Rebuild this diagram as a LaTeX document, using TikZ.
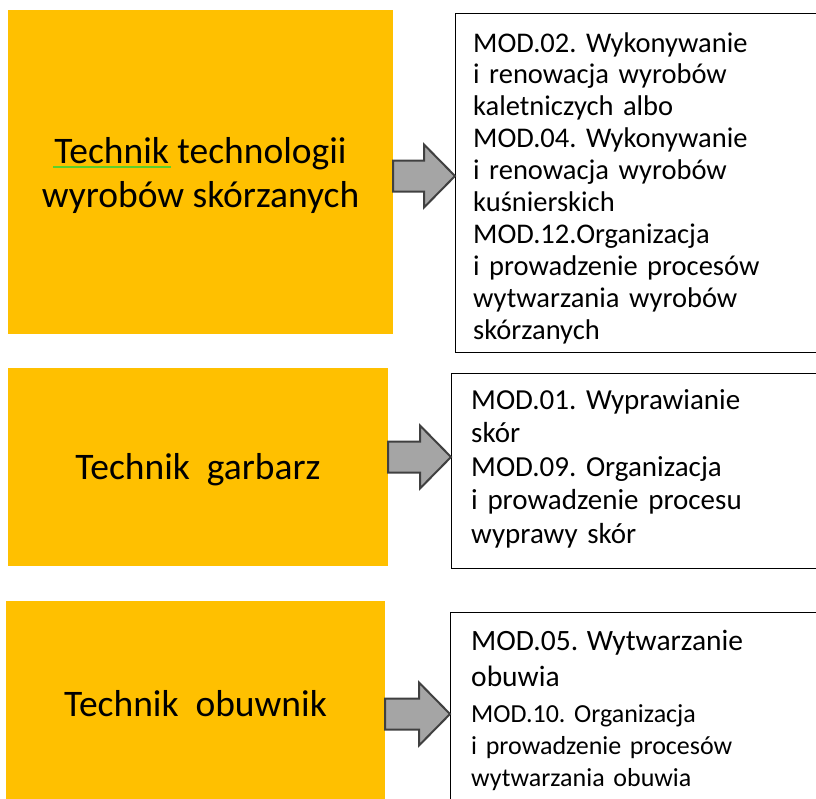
\documentclass[tikz,border=0pt]{standalone}
\usepackage{fontspec}
\setmainfont{Carlito}
\frenchspacing
\usetikzlibrary{calc}
\definecolor{jobyellow}{HTML}{FFC000}
\definecolor{arrowgray}{HTML}{A5A5A5}
\definecolor{arrowedge}{HTML}{404040}
\definecolor{spellgreen}{HTML}{5BD12B}
\tikzset{
  jobbox/.style={fill=jobyellow, inner sep=0pt},
  jobtext/.style={inner sep=0pt, align=center, font=\fontsize{37.5}{44}\selectfont},
  modbox/.style={draw=black, line width=1.2pt, fill=white, anchor=north west, inner sep=0pt, minimum width=400},
  modtext/.style={anchor=base west, inner sep=0pt, text width=340pt, align=left},
  blockarr/.style={fill=arrowgray, draw=arrowedge, line width=2pt, line join=miter},
}
% block arrow: tail node, head node, y of the arrow axis
\newcommand\blockarrow[3]{%
  \coordinate (tail) at (#1.east |- 0,#3);
  \coordinate (tip) at (#2.west |- 0,#3);
  \draw[blockarr] ($(tail)+(0,-15.5)$) -- ($(tip)+(-31,-15.5)$) -- ($(tip)+(-31,-31.5)$) -- (tip)
    -- ($(tip)+(-31,31.5)$) -- ($(tip)+(-31,15.5)$) -- ($(tail)+(0,15.5)$) -- cycle;
}
\begin{document}
\begin{tikzpicture}[x=1pt, y=-1pt]
  \useasboundingbox (0,0) rectangle (816,798);
  \clip (0,0) rectangle (816,798);

  % job titles
  \node[jobbox, minimum width=385, minimum height=324] (t1) at (200.5,172) {};
  \node[jobbox, minimum width=380, minimum height=198] (t2) at (198,467) {};
  \node[jobbox, minimum width=379, minimum height=200] (t3) at (195.5,701) {};
  \node[jobtext] (t1text) at ($(t1.center)+(0,3.5)$) {Technik technologii\\ wyrobów skórzanych};
  \node[jobtext] (t2text) at ($(t2.center)+(0,3)$) {Technik\ \ garbarz};
  \node[jobtext] (t3text) at ($(t3.center)+(0,3)$) {Technik\ \ obuwnik};
  \draw[spellgreen, line width=1.2pt] (53,167) -- (171,167);

  % module boxes
  \node[modbox, minimum height=339] (m1) at (455,13) {};
  \node[modbox, minimum height=195] (m2) at (451,373) {};
  \node[modbox, minimum height=210] (m3) at (450,612) {};

  \node[modtext, font=\fontsize{28.5}{31.9}\selectfont] (m1text) at ($(m1.north west)+(18,39)$)
    {MOD.02. Wykonywanie\\ i renowacja wyrobów\\ kaletniczych albo\\ MOD.04. Wykonywanie\\ i renowacja wyrobów\\ kuśnierskich\\ MOD.12.Organizacja\\ i prowadzenie procesów\\ wytwarzania wyrobów\\ skórzanych};
  \node[modtext, font=\fontsize{29}{33.5}\selectfont] (m2text) at ($(m2.north west)+(20,36)$)
    {MOD.01. Wyprawianie\\ skór\\ MOD.09. Organizacja\\ i prowadzenie procesu\\ wyprawy skór};
  \node[modtext, font=\fontsize{26}{32}\selectfont] (m3text) at ($(m3.north west)+(21,38)$)
    {{\fontsize{29.5}{32}\selectfont MOD.05. Wytwarzanie}\\[4pt] {\fontsize{29.5}{32}\selectfont obuwia}\\[4pt] MOD.10. Organizacja\\ i prowadzenie procesów\\ wytwarzania obuwia};

  % arrows
  \blockarrow{t1}{m1}{176}
  \blockarrow{t2}{m2}{457}
  \blockarrow{t3}{m3}{714}
\end{tikzpicture}
\end{document}
